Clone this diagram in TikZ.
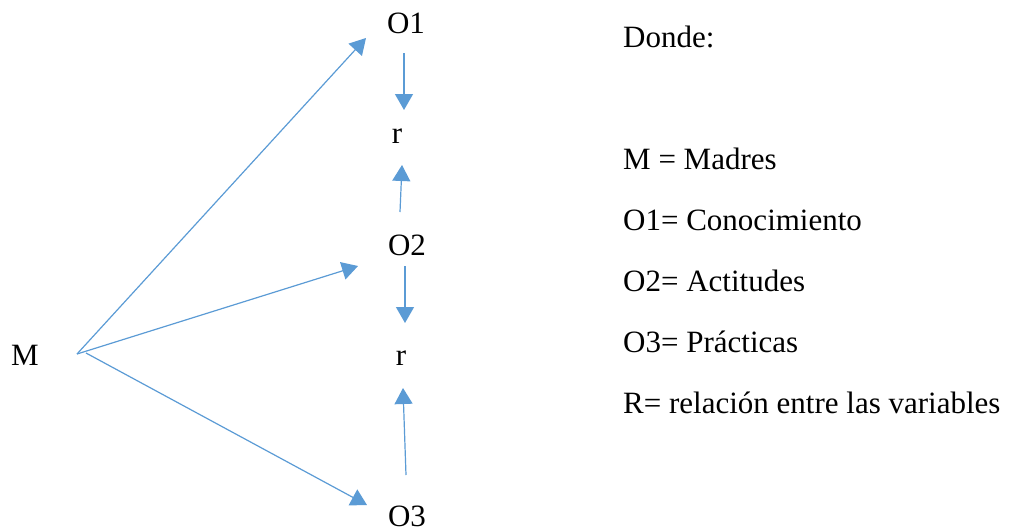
\documentclass[tikz,border=0pt]{standalone}
\usepackage{fontspec}
\setmainfont{Liberation Serif}
\usetikzlibrary{arrows.meta}
\definecolor{arrowblue}{HTML}{5B9BD5}
\begin{document}
\begin{tikzpicture}[x=1pt,y=-1pt,
  lbl/.style={inner sep=0pt, anchor=base, font=\fontsize{31}{37}\selectfont},
  leg/.style={inner sep=0pt, anchor=base west, font=\fontsize{31}{37}\selectfont},
  conn/.style={draw=arrowblue, line width=1.2pt, -{Triangle[length=16pt,width=18pt]}, arrowblue}]
\useasboundingbox (0,0) rectangle (1013,531);
% left diagram
\node[lbl] (M) at (25,365) {M};
\node[lbl] (O1) at (406,33) {O1};
\node[lbl] (r1) at (397,143) {r};
\node[lbl] (O2) at (407,255) {O2};
\node[lbl] (r2) at (401,365) {r};
\node[lbl, text depth=0pt] (O3) at (407,526) {O3};
% connector end points
\coordinate (mA) at (77,354);
\coordinate (mB) at (86,353);
\coordinate (o1in) at (366,38);
\coordinate (o2in) at (358,266);
\coordinate (o3in) at (367,505);
\coordinate (o1out) at (404,53);
\coordinate (r1top) at (404,110);
\coordinate (o2up) at (400,212);
\coordinate (r1bot) at (402,165);
\coordinate (o2down) at (405,266);
\coordinate (r2top) at (405,323);
\coordinate (o3up) at (406,475);
\coordinate (r2bot) at (403,388);
\draw[conn] (mA) -- (o1in);
\draw[conn] (mA) -- (o2in);
\draw[conn] (mB) -- (o3in);
\draw[conn] (o1out) -- (r1top);
\draw[conn] (o2up) -- (r1bot);
\draw[conn] (o2down) -- (r2top);
\draw[conn] (o3up) -- (r2bot);
% legend
\node[leg] (don) at (623,47) {Donde:};
\node[leg] (lm) at (623,169) {M = Madres};
\node[leg] (lo1) at (623,230) {O1= Conocimiento};
\node[leg] (lo2) at (623,291) {O2= Actitudes};
\node[leg] (lo3) at (623,352) {O3= Prácticas};
\node[leg] (lr) at (623,413) {R= relación entre las variables};
\end{tikzpicture}
\end{document}
